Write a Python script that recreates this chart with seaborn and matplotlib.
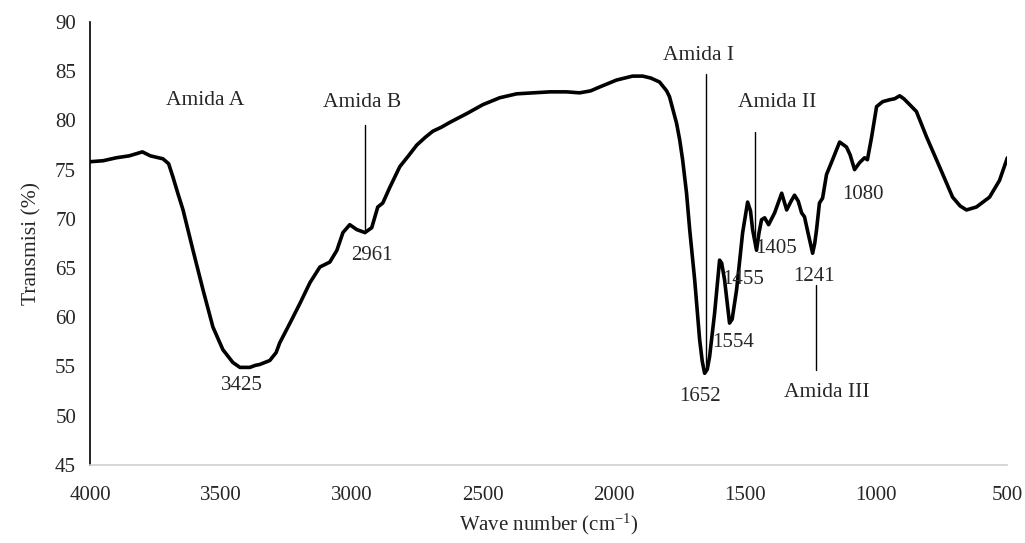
import matplotlib
matplotlib.use("Agg")
import matplotlib.pyplot as plt
import seaborn as sns
import pandas as pd

wavenumber = [4000, 3950, 3900, 3850, 3800, 3770, 3722, 3700, 3683, 3665, 3645, 3607, 3569, 3531,
              3493, 3455, 3428, 3390, 3370, 3352, 3314, 3290, 3276, 3237, 3199, 3161, 3123, 3085,
              3058, 3035, 3009, 2982, 2951, 2925, 2902, 2883, 2856, 2818, 2785, 2753, 2720, 2692,
              2660, 2627, 2562, 2501, 2437, 2372, 2311, 2246, 2181, 2132, 2090, 2055, 1991, 1930,
              1891, 1860, 1827, 1800, 1789, 1775, 1762, 1750, 1739, 1724, 1712, 1693, 1674, 1664,
              1655, 1645, 1636, 1617, 1598, 1590, 1579, 1560, 1550, 1533, 1510, 1491, 1480, 1472,
              1457, 1448, 1438, 1426, 1411, 1388, 1361, 1342, 1325, 1312, 1298, 1285, 1274, 1260,
              1243, 1235, 1228, 1217, 1205, 1190, 1167, 1140, 1114, 1100, 1083, 1064, 1045, 1034,
              1018, 999, 976, 949, 930, 911, 895, 880, 847, 808, 759, 709, 680, 656, 618, 568, 530, 500]
transmisi = [75.8, 75.9, 76.2, 76.4, 76.8, 76.4, 76.1, 75.6, 74.2, 72.6, 70.9, 66.8, 62.8, 59.0,
             56.7, 55.4, 54.9, 54.9, 55.1, 55.2, 55.6, 56.4, 57.4, 59.4, 61.4, 63.5, 65.1, 65.6,
             66.8, 68.6, 69.4, 68.9, 68.6, 69.1, 71.2, 71.6, 73.2, 75.3, 76.4, 77.5, 78.3, 78.9,
             79.3, 79.8, 80.7, 81.6, 82.3, 82.7, 82.8, 82.9, 82.9, 82.8, 83.0, 83.4, 84.1, 84.5,
             84.5, 84.3, 83.9, 83.0, 82.4, 81.0, 79.7, 78.0, 76.0, 72.6, 68.9, 63.8, 57.7, 55.5,
             54.3, 54.7, 56.0, 60.4, 65.8, 65.5, 63.8, 59.4, 59.8, 62.8, 68.6, 71.7, 70.8, 68.9,
             66.8, 68.5, 69.9, 70.1, 69.4, 70.6, 72.6, 70.9, 71.8, 72.4, 71.8, 70.6, 70.2, 68.5,
             66.5, 67.5, 68.9, 71.6, 72.1, 74.5, 76.0, 77.8, 77.3, 76.5, 75.0, 75.7, 76.2, 76.0,
             78.3, 81.4, 81.9, 82.1, 82.2, 82.5, 82.2, 81.8, 80.9, 78.3, 75.3, 72.2, 71.3, 70.9,
             71.2, 72.2, 73.9, 76.2]

x_ticks = [4000, 3500, 3000, 2500, 2000, 1500, 1000, 500]
y_ticks = [45, 50, 55, 60, 65, 70, 75, 80, 85, 90]

# annotation texts: (label, x, y)
peak_labels = [("3425", 3420, 53.1), ("2961", 2925, 66.3), ("1652", 1674, 51.9),
               ("1554", 1548, 57.4), ("1455", 1510, 63.8), ("1405", 1381, 67.0),
               ("1241", 1239, 64.1), ("1080", 1051, 72.5)]
band_labels = [("Amida A", 3562, 82.0), ("Amida B", 2963, 81.8), ("Amida I", 1680, 86.6),
               ("Amida II", 1380, 81.8), ("Amida III", 1190, 52.3)]
# annotation lines: (x, y_start, y_end)
band_lines = [(2951, 79.5, 68.6), (1650, 84.7, 55.0), (1464, 78.8, 67.1), (1232, 63.3, 54.6)]

sns.set_style("white")
plt.rcParams['font.family'] = ['Liberation Serif', 'DejaVu Serif']
plt.rcParams['mathtext.fontset'] = 'custom'
plt.rcParams['mathtext.rm'] = 'Liberation Serif'
plt.rcParams['mathtext.it'] = 'Liberation Serif:italic'

fig = plt.figure(figsize=(10.25, 5.43), dpi=100)
ax = fig.add_axes([0.0878, 0.144, 0.895, 0.8155])

df = pd.DataFrame({"wn": wavenumber, "T": transmisi})
sns.lineplot(data=df, x="wn", y="T", color="black", lw=2.6, ax=ax, sort=False)

ax.set_xlim(4000, 500)
ax.set_ylim(45, 90)
ax.set_xticks(x_ticks)
ax.set_yticks(y_ticks)
ax.tick_params(axis='both', labelsize=15)
ax.tick_params(axis='x', direction='out', length=6, width=1, color='#d0d0d0', pad=9)
ax.tick_params(axis='y', direction='out', length=6, width=1.2, color='black', pad=4)

for s in ['top', 'right']:
    ax.spines[s].set_visible(False)
ax.spines['left'].set_color('black')
ax.spines['left'].set_linewidth(1.2)
ax.spines['bottom'].set_color('#d0d0d0')
ax.spines['bottom'].set_linewidth(1.2)

ax.set_xlabel(r"Wave number (cm$^{\mathregular{-1}}$)", fontsize=15, labelpad=5)
ax.set_ylabel("Transmisi (%)", fontsize=15.5, labelpad=10)

for lab, x, y in peak_labels:
    ax.text(x, y, lab, fontsize=15, ha='center', va='center')
for lab, x, y in band_labels:
    ax.text(x, y, lab, fontsize=15.5, ha='center', va='center')
for x, y0, y1 in band_lines:
    ax.plot([x, x], [y0, y1], color='black', lw=1.0)

fig.savefig("out.png", dpi=100)
